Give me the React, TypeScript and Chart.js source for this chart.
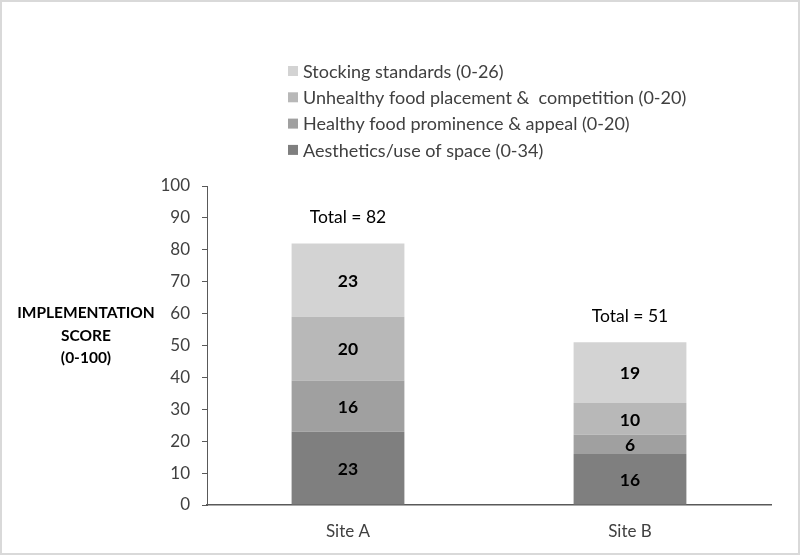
import React, { useEffect, useRef } from "react";
import { Chart, registerables } from "chart.js";

Chart.register(...registerables);

const categories = ["Site A", "Site B"];
const seriesNames = [
  "Aesthetics/use of space (0-34)",
  "Healthy food prominence & appeal (0-20)",
  "Unhealthy food placement &  competition (0-20)",
  "Stocking standards (0-26)",
];
const aesthetics = [23, 16];
const healthy = [16, 6];
const unhealthy = [20, 10];
const stocking = [23, 19];
const totals = [82, 51];
const colors = ["#7f7f7f", "#a0a0a0", "#b8b8b8", "#d3d3d3"];
const yTicks = [0, 10, 20, 30, 40, 50, 60, 70, 80, 90, 100];
const yTitle = ["IMPLEMENTATION", "SCORE", "(0-100)"];

const FONT = "Lato, 'Open Sans', sans-serif";

const overlayPlugin = {
  id: "overlay",
  afterDraw(chart: any) {
    const ctx = chart.ctx;
    ctx.save();
    // outer border
    ctx.strokeStyle = "#d9d9d9";
    ctx.lineWidth = 2;
    ctx.strokeRect(1, 1, chart.width - 2, chart.height - 2);

    // segment labels
    ctx.fillStyle = "#000";
    ctx.textAlign = "center";
    ctx.textBaseline = "middle";
    ctx.font = `bold 17.5px ${FONT}`;
    chart.data.datasets.forEach((ds: any, di: number) => {
      const meta = chart.getDatasetMeta(di);
      meta.data.forEach((bar: any, i: number) => {
        const v = ds.data[i];
        const cy = (bar.y + bar.base) / 2;
        ctx.fillText(String(v), bar.x, cy + 1);
      });
    });

    // totals
    ctx.font = `17.5px ${FONT}`;
    const yScale = chart.scales.y;
    const xScale = chart.scales.x;
    totals.forEach((t, i) => {
      const x = xScale.getPixelForValue(i);
      const y = yScale.getPixelForValue(t);
      ctx.fillText(`Total = ${t}`, x, y - 26);
    });

    // y title
    ctx.font = `bold 15.5px ${FONT}`;
    yTitle.forEach((line, i) => {
      ctx.fillText(line, 86, 313 + i * 22.5);
    });

    // legend (reversed)
    ctx.textAlign = "left";
    ctx.font = `18px ${FONT}`;
    const order = [3, 2, 1, 0];
    order.forEach((di, row) => {
      const ds = chart.data.datasets[di];
      const cy = 71 + row * 26.3;
      ctx.fillStyle = ds.backgroundColor;
      ctx.fillRect(288, cy - 5, 10, 10);
      ctx.fillStyle = "#404040";
      ctx.fillText(ds.label, 303, cy + 1);
    });
    ctx.restore();
  },
};

export default function App() {
  const ref = useRef<HTMLCanvasElement>(null);
  useEffect(() => {
    document.body.style.margin = "0";
    const series = [aesthetics, healthy, unhealthy, stocking];
    const chart = new Chart(ref.current!, {
      type: "bar",
      data: {
        labels: categories,
        datasets: series.map((d, i) => ({
          label: seriesNames[i],
          data: d,
          backgroundColor: colors[i],
          barPercentage: 0.4,
          categoryPercentage: 1,
        })),
      },
      options: {
        responsive: false,
        animation: false,
        layout: { padding: { top: 186, right: 29, left: 0, bottom: 0 } },
        plugins: {
          legend: { display: false },
          tooltip: { enabled: false },
        },
        scales: {
          x: {
            stacked: true,
            grid: { display: false, drawTicks: false },
            border: { display: true, color: "#595959", width: 1.5 },
            ticks: {
              color: "#404040",
              font: { family: FONT, size: 17 },
              padding: 16,
            },
            afterFit: (s: any) => {
              s.height = 50;
            },
          },
          y: {
            stacked: true,
            min: 0,
            max: 100,
            afterBuildTicks: (s: any) => {
              s.ticks = yTicks.map((v) => ({ value: v }));
            },
            grid: {
              drawOnChartArea: false,
              drawTicks: true,
              tickLength: 5,
              color: "#595959",
            },
            border: { display: true, color: "#595959", width: 1 },
            ticks: {
              color: "#404040",
              font: { family: FONT, size: 17 },
              padding: 12,
            },
            afterFit: (s: any) => {
              s.width = 207;
            },
          },
        },
      },
      plugins: [overlayPlugin],
    });
    return () => chart.destroy();
  }, []);
  return (
    <div style={{ width: 800, height: 555 }}>
      <canvas ref={ref} width={800} height={555} />
    </div>
  );
}
